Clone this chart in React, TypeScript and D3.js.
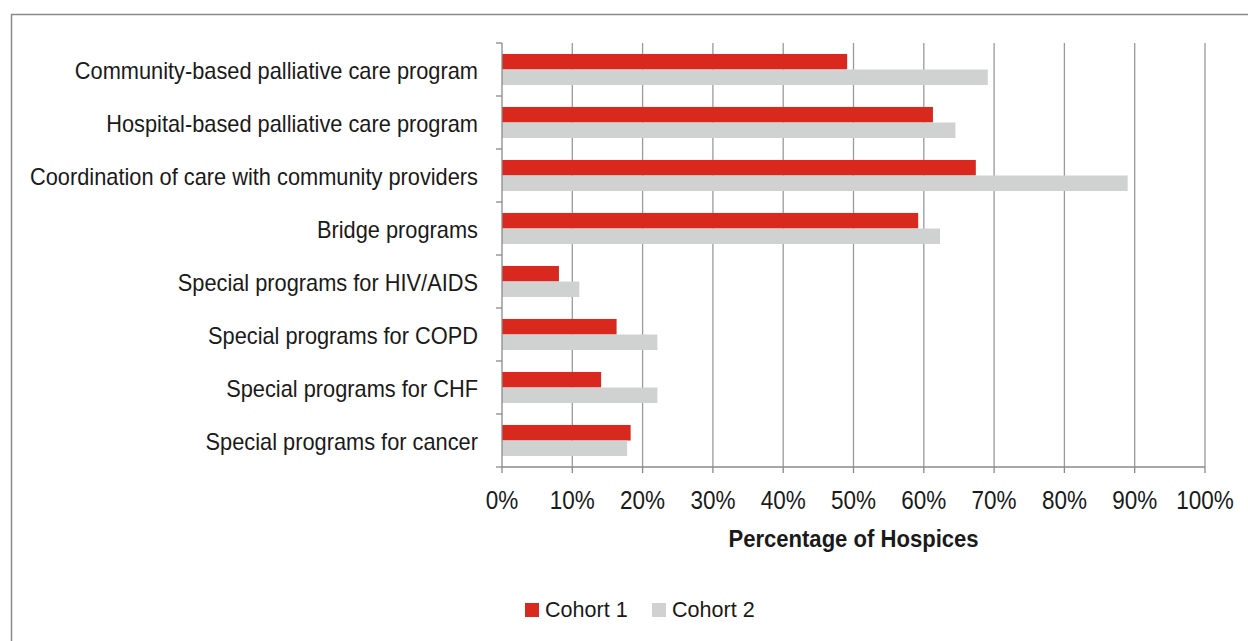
import React from "react";
import * as d3 from "d3";

const categories = [
  "Community-based palliative care program",
  "Hospital-based palliative care program",
  "Coordination of care with community providers",
  "Bridge programs",
  "Special programs for HIV/AIDS",
  "Special programs for COPD",
  "Special programs for CHF",
  "Special programs for cancer",
];
const cohort1 = [49.1, 61.3, 67.4, 59.2, 8.1, 16.3, 14.1, 18.3];
const cohort2 = [69.1, 64.5, 89.0, 62.3, 11.0, 22.1, 22.1, 17.8];
const seriesNames = ["Cohort 1", "Cohort 2"];
const xTicks = [0, 10, 20, 30, 40, 50, 60, 70, 80, 90, 100];

const W = 1248;
const H = 641;
const left = 502;
const right = 1205;
const top = 43;
const bottom = 467;
const colors = ["#d9291e", "#d0d1d1"];
const FONT = "'Liberation Sans', Arial, sans-serif";

function SText(props: {
  x: number;
  y: number;
  sx: number;
  size: number;
  anchor: string;
  bold?: boolean;
  children: React.ReactNode;
}) {
  return (
    <g transform={`translate(${props.x},${props.y}) scale(${props.sx},1)`}>
      <text
        x={0}
        y={0}
        textAnchor={props.anchor}
        fontFamily={FONT}
        fontSize={props.size}
        fontWeight={props.bold ? "bold" : "normal"}
        fill="#1a1a1a"
      >
        {props.children}
      </text>
    </g>
  );
}

export default function App() {
  const x = d3.scaleLinear().domain([0, 100]).range([left, right]);
  const y = d3.scaleBand().domain(categories).range([top, bottom]).paddingInner(0).paddingOuter(0);
  const bw = y.bandwidth();
  const barH = bw * 0.293;
  const groupH = barH * 2;
  const series = [cohort1, cohort2];
  return (
    <svg width={W} height={H} style={{ position: "absolute", left: 0, top: 0, background: "#fff" }}>
      <rect x={11.5} y={14.5} width={W} height={H} fill="#fff" stroke="#8a8a8a" strokeWidth={1.5} />
      {xTicks.slice(1).map((t) => (
        <line key={t} x1={x(t)} x2={x(t)} y1={top} y2={bottom} stroke="#9a9a9a" strokeWidth={1.3} />
      ))}
      {categories.map((c, i) =>
        series.map((s, k) => {
          const y0 = (y(c) as number) + (bw - groupH) / 2 + k * barH;
          return (
            <rect key={c + k} x={x(0)} y={y0} width={x(s[i]) - x(0)} height={barH} fill={colors[k]} />
          );
        })
      )}
      <line x1={left} x2={left} y1={top} y2={bottom} stroke="#8a8a8a" strokeWidth={1.3} />
      <line x1={left} x2={right} y1={bottom} y2={bottom} stroke="#8a8a8a" strokeWidth={1.3} />
      {d3.range(categories.length + 1).map((i) => (
        <line key={"yt" + i} x1={left - 6} x2={left} y1={top + i * bw} y2={top + i * bw} stroke="#8a8a8a" strokeWidth={1.3} />
      ))}
      {xTicks.map((t) => (
        <line key={"xt" + t} x1={x(t)} x2={x(t)} y1={bottom} y2={bottom + 6} stroke="#8a8a8a" strokeWidth={1.3} />
      ))}
      {categories.map((c) => (
        <SText key={"l" + c} x={478} y={(y(c) as number) + bw / 2 + 9} sx={0.948} size={23} anchor="end">
          {c}
        </SText>
      ))}
      {xTicks.map((t) => (
        <SText key={"xl" + t} x={x(t)} y={509} sx={0.9} size={25} anchor="middle">
          {t + "%"}
        </SText>
      ))}
      <SText x={(left + right) / 2} y={547} sx={0.96} size={23} anchor="middle" bold>
        Percentage of Hospices
      </SText>
      {seriesNames.map((n, k) => {
        const lx = [525, 652][k];
        return (
          <g key={n}>
            <rect x={lx} y={603} width={14} height={14} fill={colors[k]} />
            <SText x={lx + 20} y={617} sx={0.98} size={22} anchor="start">
              {n}
            </SText>
          </g>
        );
      })}
    </svg>
  );
}
